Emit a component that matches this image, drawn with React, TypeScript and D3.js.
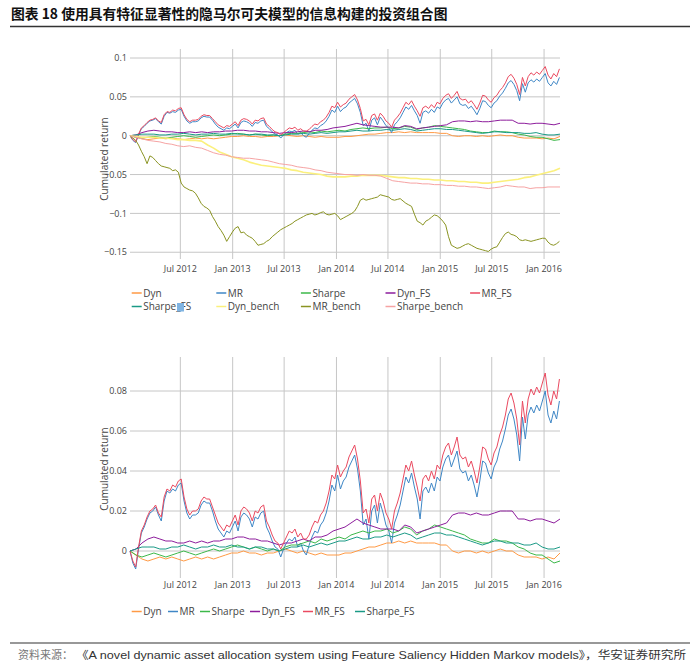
import React from "react";
import * as d3 from "d3";

// ---------- data ----------
const START = new Date(2012, 0, 6);
const END = new Date(2016, 1, 26);
const FINE_STEP_DAYS = 10;
const COARSE_STEP_DAYS = 21;

const xTickDates = [
  new Date(2012, 6, 1), new Date(2013, 0, 1), new Date(2013, 6, 1), new Date(2014, 0, 1),
  new Date(2014, 6, 1), new Date(2015, 0, 1), new Date(2015, 6, 1), new Date(2016, 0, 1),
];
const xTickLabels = ["Jul 2012", "Jan 2013", "Jul 2013", "Jan 2014", "Jul 2014", "Jan 2015", "Jul 2015", "Jan 2016"];

const topYTicks = [0.1, 0.05, 0, -0.05, -0.1, -0.15];
const topYLabels = ["0.1", "0.05", "0", "\u22120.05", "\u22120.1", "\u22120.15"];
const bottomYTicks = [0, 0.02, 0.04, 0.06, 0.08];
const bottomYLabels = ["0", "0.02", "0.04", "0.06", "0.08"];

// 10-day step series
const mrFS = [0.000,-0.005,-0.008,0.002,0.010,0.013,0.017,0.020,0.021,0.023,
 0.019,0.017,0.027,0.031,0.030,0.033,0.032,0.035,0.036,0.027,
 0.021,0.018,0.020,0.020,0.021,0.025,0.027,0.026,0.026,0.022,
 0.018,0.014,0.012,0.010,0.013,0.012,0.015,0.018,0.013,0.020,
 0.022,0.021,0.019,0.015,0.020,0.019,0.022,0.023,0.015,0.012,
 0.008,0.005,0.004,0.001,0.004,0.007,0.010,0.009,0.011,0.007,
 0.009,0.006,0.006,0.008,0.012,0.015,0.014,0.018,0.020,0.024,
 0.030,0.038,0.036,0.043,0.037,0.040,0.042,0.047,0.050,0.053,
 0.046,0.035,0.019,0.021,0.014,0.026,0.028,0.020,0.029,0.025,
 0.019,0.016,0.011,0.020,0.024,0.029,0.036,0.043,0.040,0.045,
 0.038,0.032,0.025,0.036,0.038,0.035,0.040,0.036,0.043,0.041,
 0.048,0.052,0.054,0.048,0.052,0.057,0.048,0.046,0.047,0.042,
 0.045,0.040,0.034,0.042,0.052,0.051,0.046,0.043,0.049,0.052,
 0.058,0.062,0.068,0.076,0.079,0.074,0.066,0.053,0.075,0.064,
 0.076,0.081,0.078,0.082,0.079,0.084,0.089,0.078,0.073,0.080,
 0.076,0.086];

const mr = [0.000,-0.006,-0.009,0.001,0.009,0.012,0.016,0.019,0.020,0.022,
 0.018,0.015,0.025,0.030,0.029,0.031,0.030,0.033,0.034,0.025,
 0.019,0.016,0.018,0.018,0.019,0.023,0.025,0.024,0.024,0.020,
 0.015,0.011,0.009,0.007,0.010,0.009,0.012,0.015,0.010,0.017,
 0.019,0.018,0.016,0.012,0.017,0.016,0.019,0.020,0.012,0.009,
 0.005,0.002,0.001,-0.003,0.001,0.004,0.006,0.005,0.007,0.002,
 0.004,0.000,-0.002,0.003,0.007,0.010,0.009,0.013,0.015,0.019,
 0.025,0.033,0.030,0.038,0.031,0.035,0.037,0.042,0.045,0.048,
 0.041,0.030,0.013,0.016,0.006,0.020,0.023,0.014,0.024,0.019,
 0.013,0.010,0.004,0.014,0.018,0.023,0.030,0.037,0.034,0.039,
 0.032,0.026,0.016,0.030,0.032,0.029,0.034,0.030,0.037,0.035,
 0.042,0.046,0.048,0.042,0.046,0.050,0.041,0.039,0.040,0.035,
 0.038,0.033,0.027,0.035,0.045,0.044,0.039,0.036,0.042,0.045,
 0.051,0.055,0.061,0.068,0.071,0.066,0.058,0.045,0.067,0.056,
 0.068,0.072,0.069,0.073,0.070,0.075,0.080,0.068,0.064,0.070,
 0.066,0.075];

const mrBench = [0.000,-0.003,-0.006,-0.012,-0.020,-0.027,-0.036,-0.026,-0.028,-0.032,
 -0.036,-0.039,-0.040,-0.041,-0.042,-0.045,-0.044,-0.047,-0.061,-0.066,
 -0.068,-0.070,-0.071,-0.074,-0.080,-0.087,-0.091,-0.093,-0.096,-0.104,
 -0.110,-0.117,-0.122,-0.128,-0.136,-0.130,-0.124,-0.119,-0.117,-0.125,
 -0.124,-0.128,-0.130,-0.132,-0.136,-0.141,-0.140,-0.139,-0.136,-0.134,
 -0.130,-0.127,-0.124,-0.121,-0.119,-0.117,-0.115,-0.113,-0.110,-0.108,
 -0.106,-0.104,-0.102,-0.101,-0.100,-0.102,-0.101,-0.099,-0.098,-0.101,
 -0.102,-0.101,-0.100,-0.103,-0.108,-0.106,-0.104,-0.102,-0.100,-0.097,
 -0.091,-0.083,-0.081,-0.083,-0.082,-0.081,-0.080,-0.079,-0.076,-0.077,
 -0.078,-0.079,-0.082,-0.083,-0.082,-0.081,-0.084,-0.087,-0.089,-0.091,
 -0.101,-0.110,-0.112,-0.115,-0.110,-0.108,-0.105,-0.102,-0.103,-0.106,
 -0.110,-0.115,-0.130,-0.141,-0.143,-0.145,-0.144,-0.142,-0.140,-0.139,
 -0.141,-0.143,-0.145,-0.146,-0.147,-0.148,-0.149,-0.146,-0.144,-0.143,
 -0.137,-0.131,-0.126,-0.124,-0.127,-0.128,-0.130,-0.134,-0.135,-0.134,
 -0.135,-0.136,-0.135,-0.134,-0.133,-0.132,-0.132,-0.137,-0.140,-0.141,
 -0.139,-0.136];

// 21-day step series
const dyn = [0.000,-0.002,-0.004,-0.005,-0.004,-0.003,-0.004,-0.003,-0.004,-0.005,
 -0.004,-0.003,-0.004,-0.003,-0.004,-0.003,-0.002,-0.001,-0.001,0.000,
 -0.001,-0.001,-0.002,-0.001,-0.001,0.000,0.001,0.000,-0.001,0.000,
 -0.001,-0.002,-0.001,-0.002,-0.002,-0.002,-0.001,-0.001,0.000,0.001,
 0.002,0.002,0.003,0.004,0.004,0.005,0.004,0.005,0.004,0.004,
 0.004,0.004,0.003,0.003,0.000,-0.001,0.000,0.000,-0.001,0.000,
 -0.001,0.000,0.001,0.000,0.000,-0.002,-0.003,-0.003,-0.003,-0.004,
 -0.003,-0.004,-0.001];

const sharpe = [0.000,-0.002,-0.003,-0.002,-0.001,-0.002,-0.003,-0.002,-0.001,0.000,
 -0.001,-0.002,-0.001,0.000,0.001,0.000,0.001,0.002,0.003,0.002,
 0.001,0.002,0.001,0.000,0.001,0.000,0.002,0.003,0.003,0.004,
 0.005,0.004,0.006,0.005,0.006,0.007,0.006,0.008,0.009,0.010,
 0.009,0.010,0.010,0.011,0.009,0.010,0.012,0.011,0.008,0.010,
 0.011,0.013,0.012,0.011,0.010,0.009,0.008,0.006,0.005,0.004,
 0.004,0.006,0.005,0.005,0.004,0.002,0.001,-0.001,-0.002,-0.002,
 -0.004,-0.006,-0.005];

const dynFS = [0.000,0.001,0.004,0.006,0.007,0.006,0.005,0.005,0.004,0.004,
 0.005,0.004,0.005,0.004,0.005,0.005,0.006,0.006,0.007,0.007,
 0.006,0.006,0.005,0.005,0.004,0.003,0.004,0.004,0.005,0.006,
 0.005,0.007,0.007,0.008,0.010,0.011,0.012,0.014,0.016,0.014,
 0.013,0.012,0.011,0.011,0.011,0.010,0.013,0.012,0.009,0.010,
 0.011,0.012,0.013,0.014,0.018,0.019,0.019,0.018,0.019,0.018,
 0.018,0.019,0.020,0.020,0.020,0.016,0.016,0.015,0.016,0.016,
 0.015,0.014,0.016];

const sharpeFS = [0.000,0.001,0.002,0.002,0.002,0.001,0.001,0.002,0.002,0.003,
 0.002,0.001,0.002,0.002,0.003,0.002,0.002,0.003,0.002,0.002,
 0.001,0.002,0.002,0.001,0.001,0.000,0.001,0.002,0.002,0.003,
 0.002,0.003,0.004,0.003,0.004,0.005,0.005,0.006,0.007,0.006,
 0.006,0.007,0.007,0.008,0.007,0.008,0.009,0.008,0.006,0.007,
 0.008,0.009,0.009,0.008,0.008,0.007,0.006,0.005,0.004,0.003,
 0.004,0.005,0.005,0.004,0.004,0.004,0.003,0.003,0.004,0.002,
 0.001,0.001,0.002];

const dynBench = [0.000,-0.001,-0.002,-0.002,-0.002,-0.003,-0.003,-0.004,-0.005,-0.005,
 -0.006,-0.006,-0.007,-0.012,-0.016,-0.021,-0.024,-0.027,-0.029,-0.031,
 -0.034,-0.036,-0.038,-0.039,-0.040,-0.041,-0.042,-0.044,-0.045,-0.047,
 -0.048,-0.049,-0.050,-0.052,-0.053,-0.053,-0.053,-0.052,-0.052,-0.051,
 -0.051,-0.051,-0.051,-0.052,-0.053,-0.054,-0.054,-0.055,-0.055,-0.056,
 -0.056,-0.057,-0.057,-0.058,-0.058,-0.059,-0.059,-0.060,-0.060,-0.061,
 -0.061,-0.060,-0.059,-0.058,-0.057,-0.056,-0.054,-0.053,-0.051,-0.049,
 -0.047,-0.045,-0.042];

const sharpeBench = [0.000,-0.002,-0.004,-0.006,-0.007,-0.008,-0.010,-0.011,-0.013,-0.014,
 -0.013,-0.015,-0.016,-0.019,-0.022,-0.024,-0.025,-0.027,-0.028,-0.029,
 -0.029,-0.030,-0.031,-0.032,-0.034,-0.036,-0.037,-0.038,-0.040,-0.041,
 -0.042,-0.044,-0.045,-0.047,-0.048,-0.049,-0.050,-0.050,-0.051,-0.050,
 -0.051,-0.051,-0.052,-0.055,-0.058,-0.059,-0.060,-0.061,-0.061,-0.062,
 -0.062,-0.063,-0.063,-0.064,-0.064,-0.065,-0.065,-0.066,-0.066,-0.067,
 -0.068,-0.067,-0.066,-0.064,-0.065,-0.066,-0.066,-0.068,-0.067,-0.067,
 -0.066,-0.066,-0.066];

type Series = { name: string; values: number[]; step: number; color: string; width: number };

const mainSeries: Series[] = [
  { name: "Dyn", values: dyn, step: COARSE_STEP_DAYS, color: "#ff9a45", width: 1 },
  { name: "MR", values: mr, step: FINE_STEP_DAYS, color: "#3f87c6", width: 1 },
  { name: "Sharpe", values: sharpe, step: COARSE_STEP_DAYS, color: "#3cb84a", width: 1 },
  { name: "Dyn_FS", values: dynFS, step: COARSE_STEP_DAYS, color: "#8d1d9c", width: 1 },
  { name: "MR_FS", values: mrFS, step: FINE_STEP_DAYS, color: "#ea4a60", width: 1 },
  { name: "Sharpe_FS", values: sharpeFS, step: COARSE_STEP_DAYS, color: "#1a9a86", width: 1 },
];
const benchSeries: Series[] = [
  { name: "Dyn_bench", values: dynBench, step: COARSE_STEP_DAYS, color: "#fbf07c", width: 1.6 },
  { name: "MR_bench", values: mrBench, step: FINE_STEP_DAYS, color: "#8a9422", width: 1 },
  { name: "Sharpe_bench", values: sharpeBench, step: COARSE_STEP_DAYS, color: "#f6a3a3", width: 1 },
];

// ---------- layout ----------
const PLOT_LEFT = 130;
const PLOT_RIGHT = 560;
const FONT = "'Open Sans', 'DejaVu Sans', sans-serif";
const GRID = "#c6c6c6";
const TEXT = "#444";

const x = d3.scaleTime().domain([START, END]).range([PLOT_LEFT, PLOT_RIGHT]);

function toPoints(s: Series): [Date, number][] {
  return s.values.map((v, i) => [d3.timeDay.offset(START, i * s.step), v]);
}

function Panel({ series, top, bottom, yDomain, yTicks, yLabels, xLabelY, titleY, legend }: any) {
  const y = d3.scaleLinear().domain(yDomain).range([bottom, top]);
  const line = d3.line<[Date, number]>().x(d => x(d[0])).y(d => y(d[1]));
  return (
    <g>
      {yTicks.map((t: number, i: number) => (
        <g key={"y" + i}>
          <line x1={PLOT_LEFT} x2={PLOT_RIGHT} y1={y(t)} y2={y(t)} stroke={GRID} strokeWidth={1} />
          <text x={PLOT_LEFT - 3} y={y(t)} dy="0.35em" textAnchor="end" fontSize={9} fill={TEXT} fontFamily={FONT}>{yLabels[i]}</text>
        </g>
      ))}
      {xTickDates.map((d, i) => (
        <g key={"x" + i}>
          <line x1={x(d)} x2={x(d)} y1={top} y2={bottom} stroke={GRID} strokeWidth={1} />
          <text x={x(d)} y={xLabelY} dy="0.35em" textAnchor="middle" fontSize={9} fill={TEXT} fontFamily={FONT}>{xTickLabels[i]}</text>
        </g>
      ))}
      <text transform={`translate(104,${titleY}) rotate(-90)`} textAnchor="middle" dy="0.35em" fontSize={10} fill={TEXT} fontFamily={FONT}>Cumulated return</text>
      {series.map((s: Series) => (
        <path key={s.name} d={line(toPoints(s)) || ""} fill="none" stroke={s.color} strokeWidth={s.width} strokeLinejoin="round" />
      ))}
      {legend.map((it: any) => (
        <g key={"l" + it.s.name}>
          <line x1={it.x} x2={it.x + 10} y1={it.y} y2={it.y} stroke={it.s.color} strokeWidth={1.5} />
          <text x={it.x + 11.5} y={it.y} dy="0.35em" fontSize={10} fill={TEXT} fontFamily={FONT}>{it.s.name}</text>
        </g>
      ))}
    </g>
  );
}

export default function App() {
  const allTop = [...mainSeries, ...benchSeries];
  const topLegend = allTop.map((s, i) => ({ s, x: 131.7 + (i % 5) * 84.6, y: i < 5 ? 293 : 306.5 }));
  const bottomLegendX = [131.7, 168, 200, 250, 303, 355];
  const bottomLegend = mainSeries.map((s, i) => ({ s, x: bottomLegendX[i], y: 611.5 }));
  return (
    <svg width={700} height={668} style={{ position: "absolute", left: 0, top: 0, background: "#fff" }}>
      <rect width={700} height={668} fill="#fff" />
      <text x={11} y={19} fontSize={13.8} fontWeight="bold" fill="#111" fontFamily="'Noto Sans CJK SC', sans-serif">图表 18 使用具有特征显著性的隐马尔可夫模型的信息构建的投资组合图</text>
      <line x1={10} x2={690} y1={26.5} y2={26.5} stroke="#333" strokeWidth={1.5} />

      <Panel series={allTop} top={49} bottom={259} yDomain={[-0.1587, 0.1116]} yTicks={topYTicks} yLabels={topYLabels}
        xLabelY={269} titleY={159} legend={topLegend} />
      <rect x={177} y={303} width={7} height={8.5} fill="#80b4e2" />

      <Panel series={mainSeries} top={357} bottom={578} yDomain={[-0.0135, 0.097]} yTicks={bottomYTicks} yLabels={bottomYLabels}
        xLabelY={585} titleY={469} legend={bottomLegend} />

      <line x1={10} x2={690} y1={643} y2={643} stroke="#333" strokeWidth={1.2} />
      <text x={18} y={655} dy="0.35em" fontSize={11} fill="#777" fontFamily="'Noto Sans CJK SC', sans-serif">资料来源：</text>
      <text x={76} y={655} dy="0.35em" fontSize={11} fill="#333" fontFamily="'Liberation Sans', 'Noto Sans CJK SC', sans-serif"
        textLength={610} lengthAdjust="spacingAndGlyphs">《A novel dynamic asset allocation system using Feature Saliency Hidden Markov models》，华安证券研究所</text>
    </svg>
  );
}
